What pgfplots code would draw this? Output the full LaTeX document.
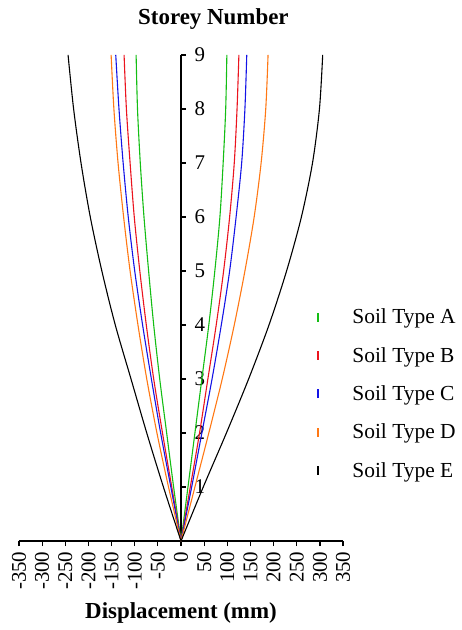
\documentclass[border=0pt]{standalone}
\usepackage{pgfplots}
\pgfplotsset{compat=1.18}
\usepackage{fontspec}
\setmainfont{Liberation Serif}
\definecolor{cA}{RGB}{20,190,20}
\definecolor{cB}{RGB}{235,20,30}
\definecolor{cC}{RGB}{20,20,230}
\definecolor{cD}{RGB}{255,120,20}
\definecolor{cE}{RGB}{0,0,0}
\begin{document}
\begin{tikzpicture}
\begin{axis}[
  scale only axis, width=324bp, height=486bp,
  xmin=-350, xmax=350, ymin=0, ymax=9,
  axis x line=bottom, axis y line=middle,
  axis line style={-, line width=1.2bp},
  every tick/.style={black, line width=1.2bp},
  major tick length=5bp,
  xtick={-350,-300,...,350}, ytick={1,...,9},
  xtick align=outside, ytick align=inside,
  /pgf/number format/assume math mode=true,
  tick label style={font=\fontsize{21}{21}\selectfont},
  xticklabel style={rotate=90, anchor=east, xshift=-2bp},
  yticklabel style={anchor=west, xshift=10bp},
  xlabel={\bfseries Displacement (mm)},
  xlabel style={font=\fontsize{23}{23}\selectfont, yshift=-6bp},
  title={\bfseries Storey Number},
  title style={font=\fontsize{23}{23}\selectfont, at={(axis description cs:0.6,1)}, anchor=south, yshift=16bp},
  clip=false,
  legend style={at={(axis cs:279,4.34)}, anchor=north west, draw=none, fill=none,
    font=\fontsize{21.5}{21.5}\selectfont, row sep=18bp, inner sep=0pt},
  legend cell align=left,
  legend image code/.code={\path[draw=none] (0,0) -- (40bp,0); \draw[#1, line width=2bp] (8bp,-4.5bp) -- (8bp,4.5bp);},
  every axis plot/.append style={line width=1.1bp, smooth},
]
\path (rel axis cs:-0.0586,-0.183) rectangle (rel axis cs:1.367,1.113);
% Soil A
\addplot[cA] coordinates {(0,0) (15,1) (30,2) (45,3) (60,4) (73,5) (84,6) (91,7) (96.5,8) (99,9)};
\addlegendentry{Soil Type A}
\addplot[cA, forget plot] coordinates {(0,0) (-16,1) (-31,2) (-46,3) (-59,4) (-70,5) (-80,6) (-88,7) (-94,8) (-97,9)};
% Soil B
\addplot[cB] coordinates {(0,0) (20,1) (40,2) (58,3) (76,4) (92,5) (105,6) (115,7) (121,8) (125,9)};
\addlegendentry{Soil Type B}
\addplot[cB, forget plot] coordinates {(0,0) (-20,1) (-40,2) (-59,3) (-75,4) (-89,5) (-101,6) (-110,7) (-118,8) (-123,9)};
% Soil C
\addplot[cC] coordinates {(0,0) (23,1) (45,2) (67,3) (87,4) (105,5) (119,6) (131,7) (138,8) (142,9)};
\addlegendentry{Soil Type C}
\addplot[cC, forget plot] coordinates {(0,0) (-22,1) (-44,2) (-64,3) (-83,4) (-100,5) (-114,6) (-125,7) (-134,8) (-141,9)};
% Soil D
\addplot[cD] coordinates {(0,0) (30,1) (60,2) (89,3) (115,4) (138,5) (158,6) (173,7) (183,8) (188,9)};
\addlegendentry{Soil Type D}
\addplot[cD, forget plot] coordinates {(0,0) (-27,1) (-52,2) (-74,3) (-93,4) (-110,5) (-124,6) (-136,7) (-145,8) (-151,9)};
% Soil E
\addplot[cE] coordinates {(0,0) (48,1) (98,2) (146,3) (190,4) (228,5) (260,6) (284,7) (299,8) (306,9)};
\addlegendentry{Soil Type E}
\addplot[cE, forget plot] coordinates {(0,0) (-38,1) (-74,2) (-108,3) (-142,4) (-171,5) (-196,6) (-216,7) (-232,8) (-244,9)};
\end{axis}
\end{tikzpicture}
\end{document}
